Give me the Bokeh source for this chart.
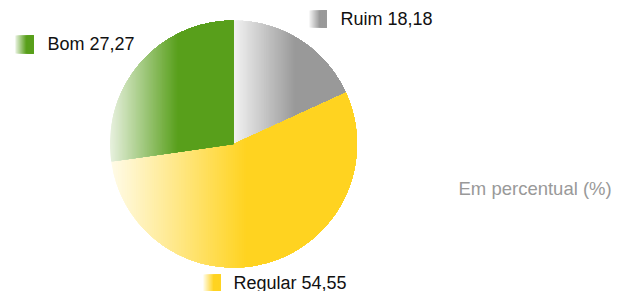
import numpy as np
from bokeh.plotting import figure
from bokeh.models import Range1d
from bokeh.core.properties import value
from bokeh.embed import file_html
from bokeh.resources import INLINE

# ---- data ----
categories = ["Ruim", "Regular", "Bom"]
percent = [18.18, 54.55, 27.27]
percent_labels = ["18,18", "54,55", "27,27"]
base_colors = ["#999999", "#ffd320", "#589f1b"]
light_colors = ["#f3f3f3", "#fffbe8", "#e8f1df"]
note = "Em percentual (%)"

# ---- layout (page pixel coordinates) ----
W, H = 625, 291
cx, cy, r = 233.0, 143.5, 123.5
grad_frac = 0.55
legend_pos = {  # marker left, marker top, size, text x, text y
    "Ruim": (309, 10, 17, 340, 18),
    "Regular": (203, 274, 17, 233, 282),
    "Bom": (15, 35, 18, 47, 43.5),
}

p = figure(width=W, height=H, output_backend="svg", toolbar_location=None,
           x_range=Range1d(0, W), y_range=Range1d(H, 0),
           min_border=0, outline_line_color=None, background_fill_color="white",
           border_fill_color="white")
p.axis.visible = False
p.grid.visible = False


def hex2rgb(h):
    h = h.lstrip("#")
    return np.array([int(h[i:i + 2], 16) for i in (0, 2, 4)], dtype=float)


def mix(c0, c1, t):
    a, b = hex2rgb(c0), hex2rgb(c1)
    c = a + (b - a) * t
    return "#%02x%02x%02x" % tuple(int(round(v)) for v in c)


def clip_half(pts, xb, keep_greater):
    out = []
    n = len(pts)
    for i in range(n):
        p0 = pts[i]
        p1 = pts[(i + 1) % n]
        in0 = p0[0] >= xb if keep_greater else p0[0] <= xb
        in1 = p1[0] >= xb if keep_greater else p1[0] <= xb
        if in0:
            out.append(p0)
        if in0 != in1:
            t = (xb - p0[0]) / (p1[0] - p0[0])
            out.append((xb, p0[1] + t * (p1[1] - p0[1])))
    return out


total = sum(percent)
cum = np.concatenate([[0], np.cumsum(percent)]) / total * 2 * np.pi

xs_all, ys_all, cols = [], [], []
nstrips = 60
for i, cat in enumerate(categories):
    t = np.linspace(cum[i], cum[i + 1], 240)
    px = cx + r * np.sin(t)
    py = cy - r * np.cos(t)
    poly = [(cx, cy)] + list(zip(px, py))
    xmin = min(q[0] for q in poly)
    xmax = max(q[0] for q in poly)
    xsat = xmin + grad_frac * (xmax - xmin)
    edges = np.linspace(xmin, xsat, nstrips + 1)
    for k in range(nstrips + 1):
        seg = poly if k == 0 else clip_half(poly, edges[k], True)
        if len(seg) < 3:
            continue
        tt = min(1.0, (k + 0.5) / nstrips)
        xs_all.append([q[0] for q in seg])
        ys_all.append([q[1] for q in seg])
        cols.append(mix(light_colors[i], base_colors[i], tt))

p.patches(xs_all, ys_all, fill_color=cols, line_color=None)

# ---- legend markers and labels ----
ql, qr, qt, qb, qc = [], [], [], [], []
tx, ty, tt_ = [], [], []
nm = 16
for i, cat in enumerate(categories):
    mx, my, ms, lx, ly = legend_pos[cat]
    e = np.linspace(mx, mx + ms, nm + 1)
    for k in range(nm):
        f = min(1.0, (k + 0.5) / nm / 0.6)
        ql.append(e[k]); qr.append(mx + ms)
        qt.append(my); qb.append(my + ms)
        qc.append(mix(light_colors[i], base_colors[i], f))
    tx.append(lx); ty.append(ly)
    tt_.append(cat + " " + percent_labels[i])

p.quad(left=ql, right=qr, top=qt, bottom=qb, fill_color=qc, line_color=None)
p.text(x=tx, y=ty, text=tt_, text_font=value("Liberation Sans"),
       text_font_size="18px", text_baseline="middle", text_align="left",
       text_color="#111111")
p.text(x=[458], y=[187.5], text=[note], text_font=value("Liberation Sans"),
       text_font_size="18.5px", text_baseline="middle", text_align="left",
       text_color="#999999")

open("out.html", "w").write(file_html(p, INLINE))
